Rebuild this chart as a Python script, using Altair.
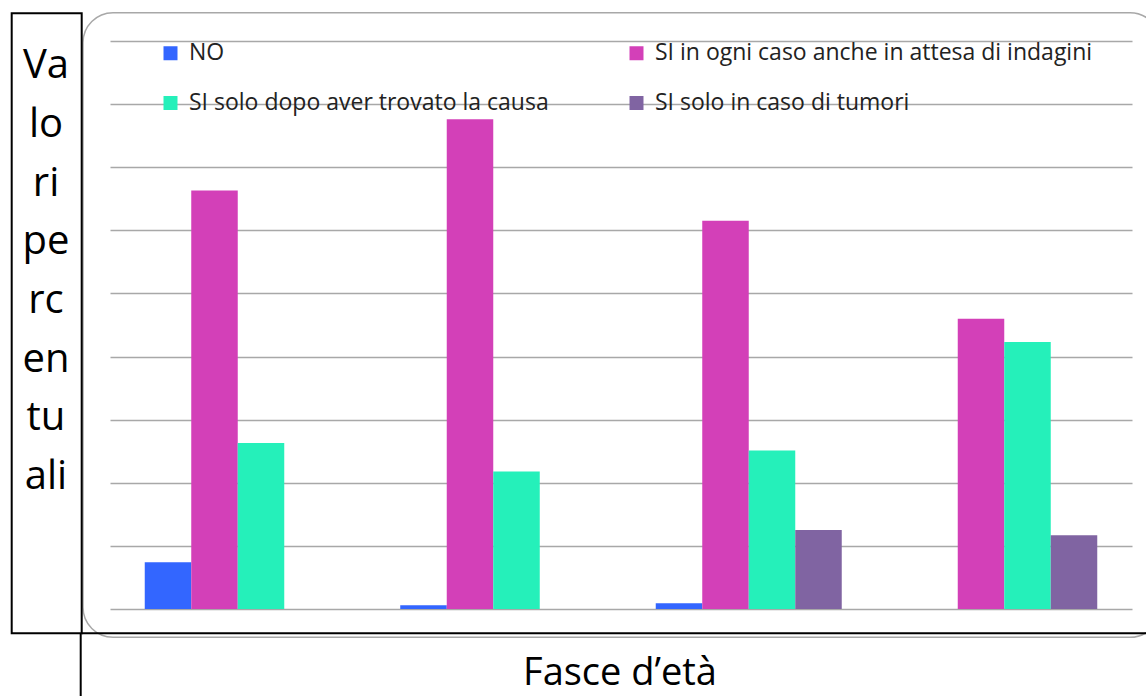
import altair as alt
import pandas as pd

# Percentuali di risposta per fascia d'età
gruppi = ["Fascia 1", "Fascia 2", "Fascia 3", "Fascia 4"]
risposte = [
    "NO",
    "SI in ogni caso anche in attesa di indagini",
    "SI solo dopo aver trovato la causa",
    "SI solo in caso di tumori",
]
colori = ["#3366ff", "#d340b8", "#25f0ba", "#8064a2"]

val_no = [7.4, 0.6, 0.9, 0.0]
val_ogni = [66.3, 77.6, 61.5, 46.0]
val_dopo = [26.3, 21.8, 25.1, 42.3]
val_tumori = [0.0, 0.0, 12.5, 11.7]

titolo_y = ["Va", "lo", "ri", "pe", "rc", "en", "tu", "ali"]
titolo_x = "Fasce d\u2019età"

FONT = "Open Sans"

righe = []
for serie, valori in zip(risposte, [val_no, val_ogni, val_dopo, val_tumori]):
    for g, v in zip(gruppi, valori):
        righe.append({"fascia": g, "risposta": serie, "valore": v})
df = pd.DataFrame(righe)
uno = pd.DataFrame({"k": [0]})

# legend fills column by column: first column NO / dopo, second ogni / tumori
ordine_legenda = [risposte[0], risposte[2], risposte[1], risposte[3]]
colori_legenda = [colori[risposte.index(r)] for r in ordine_legenda]

W, H = 1022, 568

# rounded grey frame around the plot
cornice = alt.Chart(uno).mark_rect(
    cornerRadius=30, fillOpacity=0, stroke="#a8a8a8", strokeWidth=1.5
).encode(
    x=alt.value(-27), x2=alt.value(1050),
    y=alt.value(-28.3), y2=alt.value(596.3),
)

barre = alt.Chart(df).mark_bar().encode(
    x=alt.X("fascia:N", sort=gruppi, axis=None,
            scale=alt.Scale(paddingInner=0.272, paddingOuter=0.136)),
    xOffset=alt.XOffset("risposta:N", sort=risposte,
                        scale=alt.Scale(paddingInner=0, paddingOuter=0)),
    y=alt.Y("valore:Q", scale=alt.Scale(domain=[0, 90], nice=False),
            axis=alt.Axis(values=list(range(0, 91, 10)), grid=True,
                          gridColor="#a8a8a8", gridWidth=1.5,
                          labels=False, ticks=False, domain=False, title=None)),
    color=alt.Color("risposta:N",
                    scale=alt.Scale(domain=ordine_legenda, range=colori_legenda),
                    legend=alt.Legend(
                        orient="none", legendX=49, legendY=0.5,
                        columns=2, columnPadding=76, rowPadding=26,
                        symbolType="square", symbolSize=196,
                        symbolStrokeWidth=0, labelOffset=7,
                        labelFont=FONT, labelFontSize=23,
                        labelColor="#222222", labelLimit=600,
                        title=None, padding=0)),
)

# black box holding the y title, and the table-like lines
riquadro = alt.Chart(uno).mark_rect(
    fillOpacity=0, stroke="black", strokeWidth=2
).encode(
    x=alt.value(-98.3), x2=alt.value(-28.3),
    y=alt.value(-27.7), y2=alt.value(592.3),
)
linea_h = alt.Chart(uno).mark_rule(color="black", strokeWidth=2).encode(
    x=alt.value(-28.3), x2=alt.value(1040), y=alt.value(592.3)
)
linea_v = alt.Chart(uno).mark_rule(color="black", strokeWidth=2).encode(
    x=alt.value(-29.3), y=alt.value(592.3), y2=alt.value(660)
)

testo_y = alt.Chart(uno).mark_text(
    font=FONT, fontSize=40, align="center", baseline="alphabetic",
    lineHeight=58.7, color="black"
).encode(x=alt.value(-64), y=alt.value(37.3), text=alt.value(titolo_y))

testo_x = alt.Chart(uno).mark_text(
    font=FONT, fontSize=38, align="center", baseline="alphabetic", color="black"
).encode(x=alt.value(510), y=alt.value(644), text=alt.value(titolo_x))

chart = alt.layer(cornice, barre, riquadro, linea_h, linea_v, testo_y, testo_x).properties(
    width=W, height=H,
    autosize=alt.AutoSizeParams(type="none"),
    padding={"left": 110, "top": 41, "right": 14, "bottom": 87},
    background="white",
).configure_view(stroke=None)

chart.save("out.html", embed_options={"renderer": "svg", "actions": False})
